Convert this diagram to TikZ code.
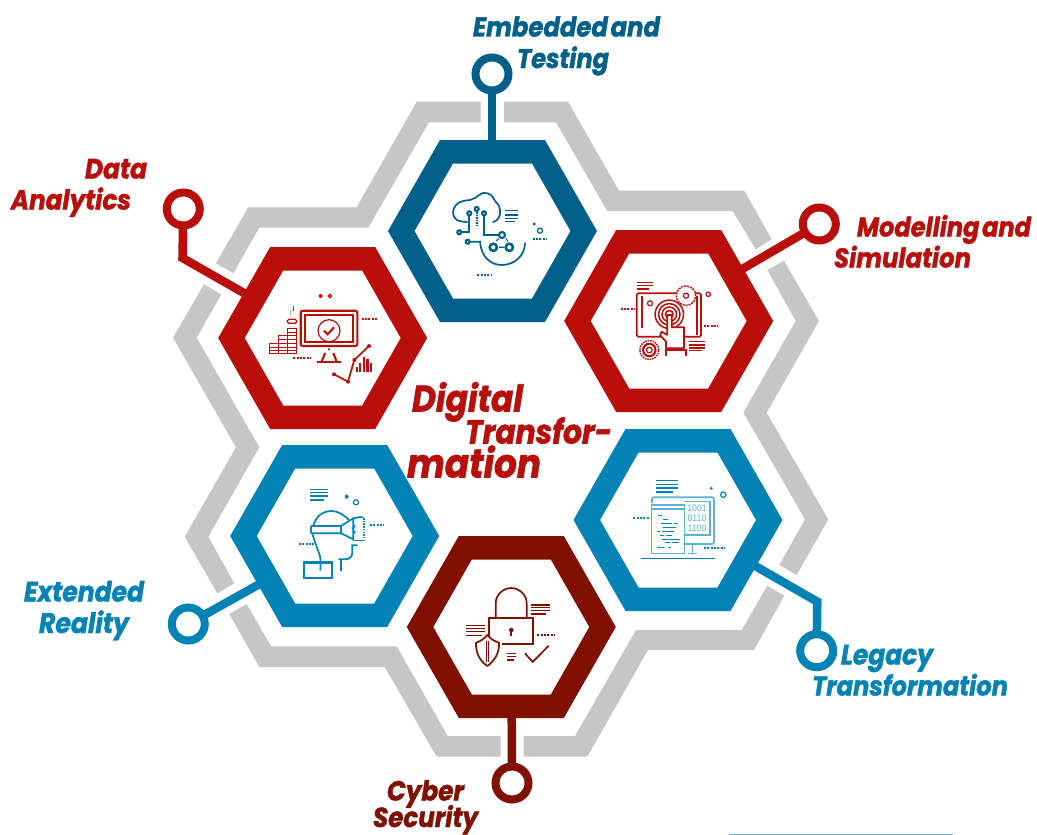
\documentclass[tikz,border=0pt]{standalone}
\usepackage{fontspec}
\setmainfont{Poppins}[BoldItalicFeatures={FakeBold=1.6}]
\newfontfamily\digitfont{Liberation Sans}
\definecolor{cteal}{HTML}{01608A}
\definecolor{cred}{HTML}{B80F0A}
\definecolor{cblue}{HTML}{0282B5}
\definecolor{cmaroon}{HTML}{801100}
\definecolor{cgray}{HTML}{C6C6C6}
\definecolor{clight}{HTML}{5FB2D4}
\tikzset{
  graybar/.style={fill=cgray,draw=none},
  connline/.style={line width=8.5pt,line join=miter,line cap=butt},
  ringnode/.style={circle,draw,fill=white,line width=8pt,minimum size=33pt,inner sep=0pt,outer sep=0pt},
  dotrow/.style={line width=2pt,dash pattern=on 2pt off 1.3pt},
  thinl/.style={line width=1.2pt},
  medl/.style={line width=1.7pt},
  thickl/.style={line width=2.1pt},
  lbl/.style={anchor=base west,inner sep=0pt,outer sep=0pt}
}
\newcommand\hexa[4]{%
  \coordinate (#1) at (#2,#3);
  \fill[#4,even odd rule,shift={(#2,#3)}]
    (-104.5,0)--(-52.5,-91)--(52.5,-91)--(104.5,0)--(52.5,91)--(-52.5,91)--cycle
    (-78,0)--(-39.5,-67.5)--(39.5,-67.5)--(78,0)--(39.5,67.5)--(-39.5,67.5)--cycle;
}
\newcommand\lab[6]{\node[lbl,text=#5] (#1) at (#2,#3) {\resizebox{#4pt}{!}{\scalebox{1}[1.12]{\bfseries\itshape #6}}};}
\begin{document}
\begin{tikzpicture}[x=1pt,y=-1pt]
\useasboundingbox (0,0) rectangle (1037,835);
\fill[white] (0,0) rectangle (1037,835);

% gray outline pieces
\fill[graybar] (480.7,101.7)--(416.7,101.7)--(356.7,207.3)--(248.3,207.3)--(216,263.3)--(233.3,273.3)--(259.3,227.7)--(368.3,227.7)--(429,122.3)--(480.7,122.3)--cycle;
\fill[graybar] (204,284.3)--(173,337.7)--(236,447.3)--(184.7,536.7)--(217.3,593.3)--(234.3,583.3)--(208.3,536.7)--(259.3,447.3)--(196.7,337.7)--(221.3,294.3)--cycle;
\fill[graybar] (229.3,614)--(246.7,604)--(271,646.3)--(396.7,646.3)--(447.7,736)--(500.5,736)--(500.5,756.7)--(436.7,756.7)--(384.7,667)--(259.3,667)--cycle;
\fill[graybar] (523.7,736)--(575,736)--(636,630)--(741.7,630)--(767.3,585.7)--(784.3,595.7)--(754,650)--(648,650)--(587.3,756.7)--(523.7,756.7)--cycle;
\fill[graybar] (784,260.7)--(819,321)--(766.7,412.7)--(828.3,519.3)--(796.7,575)--(779.3,565)--(805,519.3)--(743.3,412.7)--(795.7,321)--(767.3,270)--cycle;
\fill[graybar] (504,101.7)--(568,101.7)--(619,190.7)--(744.3,190.7)--(771.7,239.3)--(755.7,249.3)--(732.7,211)--(607.3,211)--(556,122.3)--(504,122.3)--cycle;

% rings, attach points
\coordinate (ringAc) at (492,74);
\coordinate (ringBc) at (183.3,209);
\coordinate (ringCc) at (819.3,224);
\coordinate (ringDc) at (816.7,650.7);
\coordinate (ringEc) at (512,783);
\coordinate (ringFc) at (188.3,624);
\coordinate (attA) at (492,145);
\coordinate (attB) at (250,296.5);
\coordinate (attC) at (738,271.5);
\coordinate (attD) at (750,563);
\coordinate (attE) at (511.7,712);
\coordinate (attF) at (264,581.5);
\coordinate (kneeB) at (182.5,258);
\coordinate (kneeD) at (817.3,601.7);

\draw[connline,cteal] (ringAc)--(attA);
\draw[connline,cred] (ringBc)--(kneeB)--(attB);
\draw[connline,cred] (ringCc)--(attC);
\draw[connline,cblue] (ringDc)--(kneeD)--(attD);
\draw[connline,cmaroon] (ringEc)--(attE);
\draw[connline,cblue] (ringFc)--(attF);

\node[ringnode,draw=cteal] (ringA) at (ringAc) {};
\node[ringnode,draw=cred] (ringB) at (ringBc) {};
\node[ringnode,draw=cred] (ringC) at (ringCc) {};
\node[ringnode,draw=cblue] (ringD) at (ringDc) {};
\node[ringnode,draw=cmaroon] (ringE) at (ringEc) {};
\node[ringnode,draw=cblue] (ringF) at (ringFc) {};

% hexagons
\hexa{hexA}{492.5}{231}{cteal}
\hexa{hexB}{322.7}{338}{cred}
\hexa{hexC}{668.7}{321}{cred}
\hexa{hexD}{678}{520}{cblue}
\hexa{hexE}{511.3}{627}{cmaroon}
\hexa{hexF}{334.7}{536}{cblue}

% ICON cloud
\begin{scope}[draw=cteal,fill=cteal]
\draw[medl,line cap=round] plot[smooth,tension=0.7] coordinates {(467,222)(457,220)(453,213)(456,205)(463,201)(470,200)(475,198)(483,193)(491,195)(495,201)(499,206)(500,214)(497,220)(493,222)};
\draw[medl] (469.3,213.3)--(469.3,232.3)--(459.3,232.3);
\draw[medl,dash pattern=on 1.5pt off 1pt] (476.7,212)--(476.7,225);
\draw[medl] (484,213.3)--(484,235)--(500,235);
\draw[medl] (467.7,241.7)--(480,241.7) .. controls (481,256) and (490,265) .. (501.7,265) .. controls (515,265) and (525,255) .. (525,243);
\foreach \p in {(469.3,213.3),(476.7,209),(484,213.3),(459.3,232.3),(467.7,241.7)} \draw[thickl,fill=white] \p circle[radius=2pt];
\draw[thickl,fill=white] (502,235) circle[radius=3pt];
\draw[line width=2.6pt,fill=white] (493.3,247.3) circle[radius=3.6pt];
\draw[line width=2.6pt,fill=white] (509.3,247.3) circle[radius=3.6pt];
\draw[thinl] (499,247.3)--(504,247.3) (496.5,241)--(498.5,238.5) (506,238.5)--(508,241.5);
\foreach \y in {210.7,215,218.3} \draw[thinl] (505,\y)--(518.3,\y);
\draw[thinl] (505,221.7)--(515,221.7);
\fill (534.3,224) circle[radius=1.6pt];
\draw[thinl,fill=white] (540,230.7) circle[radius=2.6pt];
\draw[dotrow] (532.7,239.3)--(546.5,239.3);
\draw[dotrow] (477.3,275)--(491.5,275);
\end{scope}

% ICON monitor
\begin{scope}[draw=cred,fill=cred]
\draw[thickl,rounded corners=2pt] (300.7,310.7) rectangle (357.3,346);
\draw[medl] (305,315) rectangle (353.3,341.7);
\draw[thinl] (329,330.7) circle[radius=11pt];
\draw[thickl] (324,330.7)--(327.7,334.3)--(334,327.3);
\fill (329,349.3) circle[radius=1.2pt];
\draw[thickl] (325,353)--(321.7,361.7) (333.3,353)--(336.7,361.7);
\draw[thickl] (317.3,362.3)--(340.7,362.3);
\fill (320.7,296) circle[radius=2pt];
\draw[thinl,fill=white] (330,296) circle[radius=1.8pt];
\draw[dotrow] (361.7,319.3)--(378,319.3);
\draw[dotrow] (293.3,358.3)--(310,358.3);
\draw[thinl] (269.3,343.3) rectangle (278.3,353.3);
\draw[thinl] (278.3,335.7) rectangle (287.3,353.3);
\draw[thinl] (287.3,328.3) rectangle (296.7,353.3);
\foreach \y in {347,350} \draw[line width=.7pt] (269.3,\y)--(296.7,\y);
\foreach \y in {339,343.3} \draw[line width=.7pt] (278.3,\y)--(296.7,\y);
\foreach \y in {332,335.7} \draw[line width=.7pt] (287.3,\y)--(296.7,\y);
\draw[thinl,rounded corners=1.5pt] (287.3,319.3) rectangle (296.7,323.3);
\draw[thinl] (293.3,305.7)--(293.3,310.7);
\draw[cred!40,line width=.8pt] (290,310)--(290,316);
\draw[medl] (334,374.3)--(348,381.7)--(354.3,360)--(369,346);
\foreach \p in {(334,374.3),(348,381.7),(354.3,360),(369,346)} \fill \p circle[radius=2pt];
\foreach \x/\y in {356.7/367.3,360.2/363,364/356.5,367.4/358.5,370.7/363} \draw[line width=2.2pt] (\x,\y)--(\x,371.7);
\end{scope}

% ICON touch
\begin{scope}[draw=cred,fill=cred]
\draw[medl,rounded corners=1.5pt] (636.7,293.3) rectangle (701,336.7);
\draw[medl] (641.7,296)--(641.7,328.3) (697.3,296)--(697.3,335);
\draw[thinl] (637.3,282.7)--(652.7,282.7) (637.3,285.7)--(652.7,285.7) (637.3,289)--(649.3,289);
\draw[dotrow] (620.7,309.3)--(634,309.3);
\draw[dotrow] (704,325.7)--(717.5,325.7);
\draw[thinl,fill=white] (650,303.3) circle[radius=2.5pt];
\draw[thinl,fill=white] (708.3,294.3) circle[radius=2.2pt];
\draw[line width=1.5pt,dash pattern=on 2pt off 1pt,fill=white] (686,295.7) circle[radius=9.7pt];
\draw[thinl,fill=white] (686,295.7) circle[radius=2.6pt];
\foreach \r in {14.2,10.7,7.3,3.8} \draw[line width=1.5pt,fill=none] (669.3,314.3) circle[radius=\r pt];
\draw[medl,fill=white,line join=round] (660,335)--(661.7,331.7)--(667.3,335)--(667.3,315)--(671.7,315)--(671.7,327.3)--(684,327.3)--(684,348.3)--(666,348.3)--(666,341.7)--cycle;
\draw[medl] (666,356)--(666,350)--(686,350)--(686,356);
\foreach \y in {341.7,345,348} \draw[thinl] (689.3,\y)--(705,\y);
\draw[thinl] (689.3,350.7)--(702,350.7);
\draw[line width=1.5pt,dash pattern=on 1.5pt off 1pt] (649.3,350) circle[radius=9.5pt];
\draw[thickl] (649.3,350) circle[radius=6.2pt];
\draw[thinl] (649.3,350) circle[radius=2.8pt];
\end{scope}

% ICON code
\begin{scope}[draw=clight,fill=clight]
\draw[line width=1.5pt,cblue] (655.7,480.7)--(677.7,480.7) (655.7,484.3)--(677.7,484.3) (655.7,488)--(677.7,488) (655.7,492)--(673,492);
\fill[cblue] (711.3,488.3) circle[radius=1.6pt];
\draw[line width=1.2pt,cblue,fill=white] (723.3,494.7) circle[radius=2.7pt];
\draw[medl,rounded corners=2pt] (652,503)--(652,497.3)--(714,497.3)--(714,544)--(685,544);
\draw[thinl] (684,501.7)--(710,501.7)--(710,535)--(685,535);
\draw[thinl] (651.7,505) rectangle (684.3,553.3);
\draw[medl] (651.7,509.3)--(684.3,509.3);
\foreach \a/\b/\y in {657.7/662/515,663/668/519.3,661/672/523.3,674/678/523.3,663/676/527.3,657/660/531.7,662/674/531.7,660/664/535.3,666/672/535.3,662/680/539.3,665/670/542.7,672/679/542.7,657/664/547.3,668/671/547.3}
  \draw[line width=.8pt,cblue] (\a,\y)--(\b,\y);
\node[inner sep=0pt,text=clight,font=\digitfont\fontsize{9.5}{10}\selectfont] (bin1) at (697,508.5) {\scalebox{.92}[1]{1001}};
\node[inner sep=0pt,text=clight,font=\digitfont\fontsize{9.5}{10}\selectfont] (bin2) at (697,518.5) {\scalebox{.92}[1]{0110}};
\node[inner sep=0pt,text=clight,font=\digitfont\fontsize{9.5}{10}\selectfont] (bin3) at (697,528.5) {\scalebox{.92}[1]{1100}};
\draw[thinl] (692.3,544)--(692.3,553.3) (687.7,553.3)--(696.7,553.3);
\draw[line width=1.3pt,cblue] (640.7,558.7)--(715.3,558.7);
\draw[dotrow,cblue] (633.3,518.3)--(649,518.3);
\draw[dotrow,cblue] (704,547.7)--(724,547.7);
\end{scope}

% ICON lock
\begin{scope}[draw=cmaroon,fill=cmaroon]
\draw[medl] (495.7,618.3)--(495.7,603.3) .. controls (495.7,595) and (503,588) .. (511.2,588) .. controls (519.4,588) and (526.7,595) .. (526.7,603.3)--(526.7,618.3);
\draw[thickl] (489.3,638)--(489.3,618.3)--(533.3,618.3)--(533.3,644)--(501.7,644);
\fill (511.3,630) circle[radius=2.3pt];
\draw[medl] (511.3,630)--(511.3,635.5);
\foreach \y in {605,607.7,610.3} \draw[thinl] (530.7,\y)--(550,\y);
\draw[thinl] (530.7,614)--(546,614);
\foreach \y in {625.7,628.3,631.7} \draw[thinl] (466,\y)--(485,\y);
\draw[thinl] (466,635.3)--(482,635.3);
\draw[dotrow] (537.3,634.7)--(554,634.7);
\draw[medl,fill=white,line join=round] (487.3,635) .. controls (484,639) and (480,641.5) .. (476,642.7) .. controls (475.5,653) and (480,661) .. (487.3,666) .. controls (494.5,661) and (499.5,653) .. (499,642.7) .. controls (495,641.5) and (490.5,639) .. (487.3,635) --cycle;
\draw[thinl] (486.3,641)--(486.3,662) (488.5,641)--(488.5,662);
\draw[thinl] (506.7,653.3)--(516,653.3) (506.7,656.7)--(516,656.7) (506.7,660)--(514,660);
\draw[medl] (525,653.3)--(532.7,662)--(548.7,645.7);
\end{scope}

% ICON VR
\begin{scope}[draw=cblue,fill=cblue]
\draw[thinl] (310,489.3)--(327.7,489.3) (310,492.7)--(327.7,492.7) (310,496)--(327.7,496) (310,500)--(324,500);
\fill (346.7,496.7) circle[radius=2pt];
\draw[thinl,fill=white] (356,502.3) circle[radius=2.6pt];
\draw[medl] (313.3,526) .. controls (316,516) and (323,511) .. (331.7,511) .. controls (338,511) and (344,515) .. (349,520);
\draw[medl,rounded corners=.8pt] (311,526) rectangle (341,533.3);
\draw[medl] (341,526)--(353.3,518.3)--(353.3,539.3)--(341,533.3);
\draw[medl] (353.3,518.3)--(358,517.3)--(363.3,517.3);
\draw[medl] (353.3,540.5)--(363.3,540.5);
\draw[line width=1.5pt,dash pattern=on 1.5pt off 1.2pt] (364,518)--(364,540);
\draw[medl] (355.3,525.5) .. controls (352.5,526.5) and (352.5,532) .. (355.3,533);
\draw[medl] (312.3,533.3) .. controls (314,540) and (318,550) .. (320,556) .. controls (321,561) and (320.5,566) .. (320.3,570.7);
\draw[medl] (304,561.7) rectangle (332.3,578.3);
\draw[thinl] (304,563.7)--(332.3,563.7);
\draw[medl] (357.7,545.3)--(352.3,545.3)--(352.3,553) .. controls (352.3,557) and (349,559.3) .. (345,559.3)--(338.3,559.3);
\draw[medl] (341,559.3)--(341,570.7);
\draw[dotrow] (299,543.7)--(313.5,543.7);
\draw[dotrow] (370,525)--(383.5,525);
\end{scope}

% stray rule
\draw[clight,line width=1.2pt] (729,834.4)--(953,834.4);

% text
\lab{tA1}{473}{36.5}{187}{cteal}{Embedded\hspace{-.12em} and}
\lab{tA2}{517}{68}{92}{cteal}{Testing}
\lab{tB1}{85}{178.5}{62}{cred}{Data}
\lab{tB2}{11}{209.5}{120}{cred}{Analytics}
\lab{tC1}{857}{236.5}{174}{cred}{Modelling\hspace{-.12em} and}
\lab{tC2}{834}{267.5}{137}{cred}{Simulation}
\lab{tD1}{412}{411.5}{111}{cred}{Digital}
\lab{tD2}{465}{443.5}{147}{cred}{Transfor-}
\lab{tD3}{407}{477.5}{134}{cred}{mation}
\lab{tF1}{24}{601.5}{120}{cblue}{Extended}
\lab{tF2}{39}{633}{90}{cblue}{Reality}
\lab{tG1}{841}{664.5}{92}{cblue}{Legacy}
\lab{tG2}{812}{695.5}{196}{cblue}{Transformation}
\lab{tE1}{387}{800.5}{77}{cmaroon}{Cyber}
\lab{tE2}{373}{827}{105}{cmaroon}{Security}
\end{tikzpicture}
\end{document}
